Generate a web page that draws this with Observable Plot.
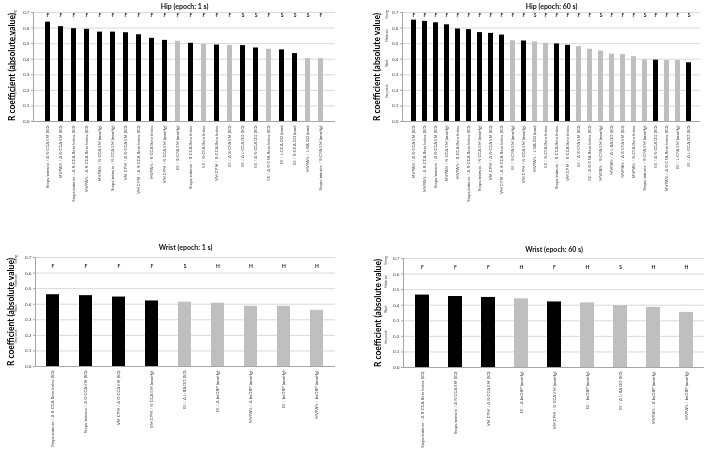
<!DOCTYPE html>
<html><head><meta charset="utf-8">
<script src="https://cdn.jsdelivr.net/npm/d3@7"></script>
<script src="https://cdn.jsdelivr.net/npm/@observablehq/plot@0.6"></script>
<style>
body{margin:0;background:#fff;}
#wrap{position:relative;width:708px;height:456px;font-family:Lato, "Open Sans", sans-serif;overflow:hidden;}
.panel{position:absolute;will-change:transform;}
.panel svg{display:block;overflow:visible;}
.panel g[aria-label="y-axis label"] text{font-size:8.5px;font-weight:bold;fill:#000;}
.panel g[aria-label="y-axis tick label"] text, .panel g[aria-label="x-axis tick label"] text{fill:#404040;}
</style></head><body><div id="wrap"></div>
<script>
const yTicks = [0, 0.1, 0.2, 0.3, 0.4, 0.5, 0.6, 0.7];
const strengthNames = ["Strong", "Moderate", "Weak", "Very weak"];
const strengthMid = [0.66, 0.51, 0.35, 0.15];

const hip1Labels = [
  "Steps/minute / Δ R-CCA EM (SD)", "MVPA% / Δ R-CCA EM (SD)", "Steps/minute / Δ R-CCA Beta Index (SD)",
  "MVPA% / Δ R-CCA Beta Index (SD)", "MVPA% / R-CCA EM (mmHg)", "Steps/minute / R-CCA EM (mmHg)",
  "VM CPM / Δ R-CCA EM (SD)", "VM CPM / Δ R-CCA Beta Index (SD)", "MVPA% / R-CCA Beta Index",
  "VM CPM / R-CCA EM (mmHg)", "EE / R-CFA EM (mmHg)", "Steps/minute / R-CCA Beta Index",
  "EE / R-CFA Beta Index", "VM CPM / R-CCA Beta Index", "EE / Δ R-CFA EM (SD)",
  "EE / Δ L-CCA DD (SD)", "EE / Δ R-CCA DD (SD)", "EE / Δ R-CFA Beta Index (SD)",
  "EE / L-CCA DD (mm)", "EE / R-CCA DD (mm)", "MVPA% / L-BA DD (mm)", "Steps/minute / R-CFA EM (mmHg)"];
const hip1Values = [0.638, 0.609, 0.596, 0.592, 0.574, 0.574, 0.570, 0.557, 0.534, 0.521, 0.515,
  0.502, 0.496, 0.491, 0.489, 0.487, 0.472, 0.464, 0.460, 0.436, 0.404, 0.404];
const hip1Letters = ["F","F","F","F","F","F","F","F","F","F","F","F","F","F","F","S","S","F","S","S","S","F"];

const hip60Labels = [
  "MVPA% / Δ R-CCA EM (SD)", "MVPA% / Δ R-CCA Beta Index (SD)", "Steps/minute / Δ R-CCA EM (SD)",
  "MVPA% / R-CCA EM (mmHg)", "MVPA% / R-CCA Beta Index", "Steps/minute / Δ R-CCA Beta Index (SD)",
  "Steps/minute / R-CCA EM (mmHg)", "VM CPM / Δ R-CCA EM (SD)", "VM CPM / Δ R-CCA Beta Index (SD)",
  "EE / R-CFA EM (mmHg)", "VM CPM / R-CCA EM (mmHg)", "MVPA% / L-BA DD (mm)",
  "EE / R-CFA Beta Index", "Steps/minute / R-CCA Beta Index", "VM CPM / R-CCA Beta Index",
  "EE / Δ R-CFA EM (SD)", "EE / Δ R-CFA Beta Index (SD)", "MVPA% / R-CFA EM (mmHg)",
  "MVPA% / Δ L-BA DD (SD)", "MVPA% / Δ R-CFA EM (SD)", "MVPA% / R-CFA Beta Index",
  "Steps/minute / R-CFA EM (mmHg)", "EE / Δ R-CCA DD (SD)", "MVPA% / Δ R-CFA Beta Index (SD)",
  "EE / L-CFA EM (mmHg)", "EE / Δ L-CCA DD (SD)"];
const hip60Values = [0.651, 0.643, 0.634, 0.621, 0.594, 0.590, 0.571, 0.566, 0.555, 0.519, 0.517,
  0.511, 0.502, 0.498, 0.489, 0.481, 0.464, 0.453, 0.432, 0.430, 0.417, 0.396, 0.394, 0.391, 0.391, 0.377];
const hip60Letters = ["F","F","F","F","F","F","F","F","F","F","F","S","F","F","F","F","F","S","F","F","F","S","F","F","F","S"];

const wrist1Labels = [
  "Steps/minute / Δ R-CCA Beta Index (SD)", "Steps/minute / Δ R-CCA EM (SD)", "VM CPM / Δ R-CCA EM (SD)",
  "VM CPM / R-CCA EM (mmHg)", "EE / Δ L-BA DD (SD)", "EE / Δ baDBP (mmHg)",
  "MVPA% / Δ baDBP (mmHg)", "EE / baDBP (mmHg)", "MVPA% / baDBP (mmHg)"];
const wrist1Values = [0.461, 0.455, 0.446, 0.421, 0.413, 0.406, 0.387, 0.387, 0.361];
const wrist1Letters = ["F","F","F","F","S","H","H","H","H"];

const wrist60Labels = [
  "Steps/minute / Δ R-CCA Beta Index (SD)", "Steps/minute / Δ R-CCA EM (SD)", "VM CPM / Δ R-CCA EM (SD)",
  "EE / Δ baDBP (mmHg)", "VM CPM / R-CCA EM (mmHg)", "EE / baDBP (mmHg)",
  "EE / Δ L-BA DD (SD)", "MVPA% / Δ baDBP (mmHg)", "MVPA% / baDBP (mmHg)"];
const wrist60Values = [0.465, 0.456, 0.450, 0.441, 0.421, 0.415, 0.397, 0.386, 0.354];
const wrist60Letters = ["F","F","F","H","F","H","S","H","H"];

function panel(cfg) {
  const data = cfg.labels.map((l, i) => ({
    label: l, r: cfg.values[i], letter: cfg.letters[i],
    group: l.includes("CCA") ? "Carotid" : "Other"
  }));
  const strength = strengthNames.map((s, i) => ({name: s, y: strengthMid[i]}));
  const chart = Plot.plot({
    width: cfg.width, height: cfg.height,
    marginLeft: cfg.ml, marginRight: cfg.mr, marginTop: cfg.mt, marginBottom: cfg.mb,
    style: {fontFamily: "Lato, 'Open Sans', sans-serif", background: "transparent", overflow: "visible"},
    x: {domain: cfg.labels, padding: cfg.padding, paddingOuter: cfg.paddingOuter, label: null},
    y: {domain: [0, 0.7], label: null},
    color: {domain: ["Carotid", "Other"], range: ["#000000", "#bfbfbf"]},
    marks: [
      Plot.gridY(yTicks.slice(1), {stroke: "#d9d9d9", strokeOpacity: 1}),
      Plot.barY(data, {x: "label", y: "r", fill: "group"}),
      Plot.ruleY([0], {stroke: "#a6a6a6"}),
      Plot.frame({anchor: "left", stroke: "#a6a6a6"}),
      Plot.axisY(yTicks, {tickFormat: d3.format(".1f"), fontSize: 4.6, tickSize: 2, tickPadding: 2,
        stroke: "#a6a6a6", label: "R coefficient (absolute value)", labelAnchor: "center",
        labelArrow: "none", labelOffset: cfg.labelOffset}),
      Plot.axisX({tickRotate: -90, tickSize: 0, fontSize: 4.3, tickPadding: 4, label: null}),
      Plot.text(data, {x: "label", y: () => cfg.letterY, text: "letter", fontSize: 5, fontWeight: "bold", fill: "#222"}),
      Plot.text(strength, {y: "y", text: "name", frameAnchor: "left", dx: cfg.strengthDx, rotate: -90, fontSize: 3, fill: "#444"}),
      Plot.text([cfg.title], {frameAnchor: "top", dy: cfg.titleDy, fontSize: 7, fontWeight: "bold", fill: "#111"})
    ]
  });
  const div = document.createElement("div");
  div.className = "panel";
  div.style.left = cfg.left + "px";
  div.style.top = cfg.top + "px";
  div.appendChild(chart);
  document.getElementById("wrap").appendChild(div);
}

panel({title: "Hip (epoch: 1 s)", labels: hip1Labels, values: hip1Values, letters: hip1Letters,
  letterY: 0.68, left: 0, top: 0, width: 354, height: 228, ml: 33, mr: 19, mt: 12, mb: 107,
  padding: 0.62, paddingOuter: 0.4, labelOffset: 25, strengthDx: -18, titleDy: -8});
panel({title: "Hip (epoch: 60 s)", labels: hip60Labels, values: hip60Values, letters: hip60Letters,
  letterY: 0.68, left: 354, top: 0, width: 354, height: 228, ml: 48, mr: 8, mt: 12, mb: 107,
  padding: 0.59, paddingOuter: 0.35, labelOffset: 29, strengthDx: -15, titleDy: -8});
panel({title: "Wrist (epoch: 1 s)", labels: wrist1Labels, values: wrist1Values, letters: wrist1Letters,
  letterY: 0.642, left: 0, top: 228, width: 354, height: 228, ml: 35, mr: 19, mt: 29, mb: 90,
  padding: 0.6, paddingOuter: 0.3, labelOffset: 28, strengthDx: -19, titleDy: -12});
panel({title: "Wrist (epoch: 60 s)", labels: wrist60Labels, values: wrist60Values, letters: wrist60Letters,
  letterY: 0.644, left: 354, top: 228, width: 354, height: 228, ml: 49, mr: 4, mt: 30, mb: 89,
  padding: 0.58, paddingOuter: 0.29, labelOffset: 29, strengthDx: -17, titleDy: -11});
</script></body></html>
